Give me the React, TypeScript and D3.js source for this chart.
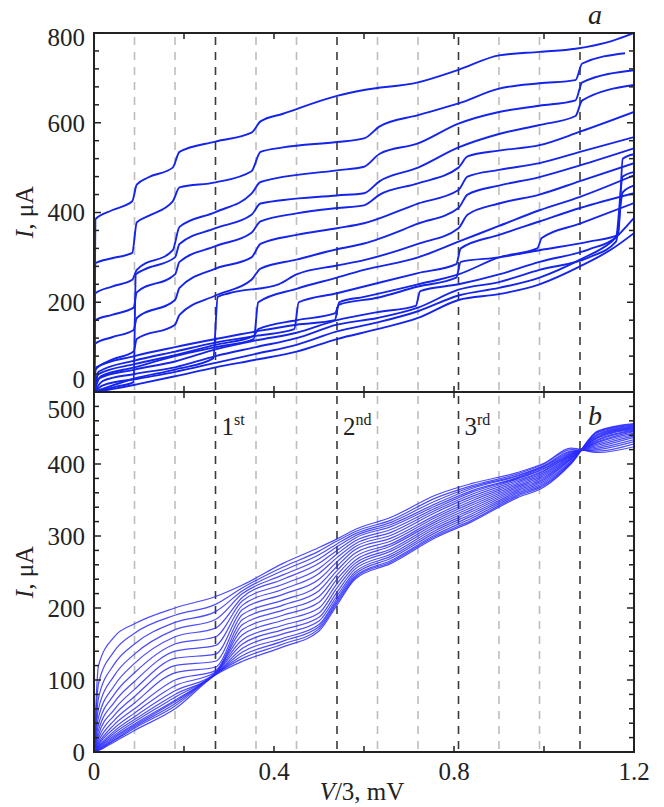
import React from 'react';
import * as d3 from 'd3';

// axes / guides
const xTicks = [0, 0.2, 0.4, 0.6, 0.8, 1.0, 1.2];
const xLabels = [0, 0.4, 0.8, 1.2];
const topYTicks = d3.range(0, 801, 40);
const topYLabels = [0, 200, 400, 600, 800];
const botYTicks = d3.range(0, 501, 20);
const botYLabels = [0, 100, 200, 300, 400, 500];
const lightGuides = [0.09, 0.18, 0.36, 0.45, 0.63, 0.72, 0.9, 0.99];
const darkGuides = [0.27, 0.54, 0.81, 1.08];
const stepMarks = [
  { v: 0.27, n: '1', s: 'st' },
  { v: 0.54, n: '2', s: 'nd' },
  { v: 0.81, n: '3', s: 'rd' },
];

// panel a: measured I-V curves, [V/3 (mV), I (uA)]
const curveA = [[0,0],[0.003,385],[0.04,405],[0.085,425],[0.095,462],[0.12,478],[0.175,500],[0.19,535],[0.27,558],[0.35,578],[0.37,603],[0.42,620],[0.54,660],[0.6,673],[0.72,690],[0.81,718],[0.9,750],[0.99,758],[1.07,765],[1.15,782],[1.2,800]];
const curveB = [[0,0],[0.003,287],[0.04,298],[0.085,310],[0.095,378],[0.12,392],[0.175,425],[0.19,456],[0.27,467],[0.35,492],[0.37,535],[0.42,545],[0.54,557],[0.6,565],[0.635,592],[0.72,617],[0.81,643],[0.9,676],[0.99,688],[1.07,695],[1.085,732],[1.18,755]];
const curveC = [[0,0],[0.003,220],[0.04,235],[0.085,250],[0.095,272],[0.175,316],[0.19,368],[0.27,401],[0.35,442],[0.37,468],[0.54,494],[0.6,502],[0.635,531],[0.72,554],[0.81,598],[0.9,624],[0.99,638],[1.07,650],[1.085,690],[1.2,717]];
const curveJ09 = [[0,0],[0.05,12],[0.088,22],[0.093,262],[0.11,272],[0.18,300],[0.19,330],[0.27,365],[0.35,395],[0.37,420],[0.54,438],[0.6,443],[0.635,470],[0.72,500],[0.81,545],[0.9,575],[0.99,595],[1.07,615],[1.085,650],[1.2,684]];
const curveD = [[0,0],[0.003,160],[0.04,172],[0.088,188],[0.095,222],[0.18,262],[0.19,290],[0.27,325],[0.35,355],[0.37,380],[0.45,398],[0.54,410],[0.6,416],[0.635,440],[0.72,465],[0.81,500],[0.83,525],[0.9,538],[0.99,550],[1.08,580],[1.2,624]];
const curveE = [[0,0],[0.003,108],[0.04,122],[0.088,138],[0.095,165],[0.18,205],[0.19,232],[0.27,275],[0.35,300],[0.37,330],[0.45,350],[0.54,365],[0.6,376],[0.72,420],[0.81,450],[0.83,480],[0.9,495],[0.99,510],[1.08,535],[1.2,568]];
const curveF = [[0,0],[0.003,50],[0.04,72],[0.088,90],[0.095,118],[0.18,150],[0.19,172],[0.27,215],[0.35,250],[0.37,275],[0.45,295],[0.54,318],[0.6,331],[0.72,375],[0.81,410],[0.83,440],[0.9,460],[0.99,479],[1.08,505],[1.2,543]];
const curveJ27 = [[0,0],[0.09,30],[0.18,50],[0.265,75],[0.275,212],[0.3,220],[0.41,240],[0.45,262],[0.54,282],[0.6,294],[0.72,330],[0.81,365],[0.83,395],[0.9,420],[0.99,440],[1.08,470],[1.2,510]];
const curveG = [[0,0],[0.015,35],[0.09,55],[0.18,80],[0.27,100],[0.355,118],[0.365,200],[0.45,230],[0.54,255],[0.6,272],[0.72,300],[0.81,335],[0.9,370],[0.99,405],[1.08,435],[1.2,483]];
const curveH = [[0,0],[0.01,45],[0.09,70],[0.18,90],[0.27,110],[0.36,125],[0.445,140],[0.455,200],[0.54,220],[0.6,235],[0.72,265],[0.805,285],[0.815,320],[0.9,350],[0.99,380],[1.08,410],[1.2,443]];
const curveK = [[0,0],[0.005,55],[0.09,80],[0.18,100],[0.27,118],[0.36,135],[0.45,150],[0.535,160],[0.545,200],[0.6,212],[0.72,240],[0.81,262],[0.9,300],[0.985,320],[0.995,343],[1.08,375],[1.2,421]];
const base4 = [[0,0],[0.01,40],[0.09,62],[0.18,82],[0.27,105],[0.355,125],[0.365,140],[0.45,160],[0.535,175],[0.545,195],[0.63,210],[0.72,235],[0.805,255],[0.815,290],[0.9,300],[0.99,316],[1.1,335],[1.165,350],[1.175,520],[1.2,530]];
const base3 = [[0,0],[0.01,30],[0.09,50],[0.18,68],[0.27,95],[0.36,115],[0.45,132],[0.54,160],[0.63,178],[0.715,192],[0.725,225],[0.81,240],[0.9,262],[0.99,290],[1.1,318],[1.16,345],[1.175,480],[1.2,490]];
const base2 = [[0,0],[0.02,25],[0.09,40],[0.18,55],[0.27,80],[0.36,100],[0.45,120],[0.54,150],[0.63,165],[0.72,188],[0.81,228],[0.9,245],[0.99,272],[1.1,300],[1.16,335],[1.175,445],[1.2,460]];
const base1 = [[0,0],[0.02,15],[0.1,30],[0.18,45],[0.27,65],[0.36,85],[0.45,105],[0.54,135],[0.63,155],[0.72,180],[0.81,215],[0.9,232],[0.99,255],[1.08,295],[1.15,335],[1.2,388]];
const base0 = [[0,0],[0.05,8],[0.1,18],[0.18,35],[0.27,55],[0.36,72],[0.45,90],[0.54,118],[0.63,140],[0.72,165],[0.81,205],[0.9,218],[0.99,240],[1.08,280],[1.15,318],[1.2,354]];
const topCurves = [curveA, curveB, curveC, curveJ09, curveD, curveE, curveF, curveJ27, curveG, curveH, curveK, base4, base3, base2, base1, base0];

// panel b: calculated curves, I (uA) at the voltages in bottomV
const bottomV = [0, 0.01, 0.045, 0.09, 0.18, 0.27, 0.33, 0.42, 0.5, 0.54, 0.58, 0.66, 0.76, 0.84, 0.94, 1.0, 1.06, 1.12, 1.2];
const bottomI = [
  [0, 2, 14, 30, 60, 107, 126, 146, 168, 204, 240, 262, 298, 320, 353, 368, 400, 446, 456],
  [0, 3, 16, 33, 64, 108, 130, 150, 171, 207, 242, 264, 300, 322, 355, 370, 401, 445, 455],
  [0, 3, 17, 35, 67, 108, 134, 154, 174, 210, 244, 266, 302, 325, 357, 372, 402, 444, 454],
  [0, 4, 19, 37, 70, 108, 139, 158, 177, 213, 247, 269, 305, 328, 359, 374, 403, 442, 453],
  [0, 5, 21, 39, 72, 108, 144, 164, 182, 217, 250, 272, 308, 331, 361, 376, 404, 441, 452],
  [0, 6, 23, 42, 76, 109, 150, 170, 187, 222, 254, 275, 311, 334, 363, 378, 406, 440, 451],
  [0, 7, 26, 45, 80, 109, 156, 176, 193, 228, 258, 279, 314, 337, 365, 380, 407, 438, 450],
  [0, 8, 29, 49, 85, 110, 163, 183, 200, 234, 262, 282, 317, 340, 367, 382, 408, 437, 449],
  [0, 10, 33, 54, 92, 111, 170, 190, 208, 240, 266, 286, 320, 343, 369, 384, 409, 436, 448],
  [0, 12, 38, 60, 100, 113, 177, 197, 216, 246, 271, 289, 323, 346, 371, 386, 410, 434, 447],
  [0, 15, 44, 68, 110, 118, 184, 204, 224, 252, 276, 293, 326, 349, 373, 388, 411, 433, 446],
  [0, 19, 51, 77, 120, 126, 191, 211, 232, 258, 281, 297, 329, 352, 375, 390, 412, 431, 445],
  [0, 24, 59, 87, 130, 136, 198, 219, 240, 264, 285, 301, 333, 355, 377, 391, 413, 430, 443],
  [0, 30, 69, 98, 140, 148, 204, 226, 248, 270, 289, 305, 336, 358, 379, 393, 414, 428, 441],
  [0, 38, 80, 110, 150, 160, 210, 233, 255, 275, 293, 309, 339, 361, 380, 394, 415, 426, 439],
  [0, 48, 92, 123, 160, 172, 215, 240, 262, 280, 297, 313, 342, 363, 381, 396, 416, 424, 437],
  [0, 60, 106, 136, 170, 184, 220, 246, 268, 285, 300, 316, 345, 366, 383, 397, 417, 422, 434],
  [0, 75, 122, 150, 180, 195, 224, 252, 274, 289, 303, 319, 349, 368, 384, 398, 418, 420, 431],
  [0, 95, 140, 165, 190, 205, 228, 257, 279, 293, 306, 322, 353, 370, 386, 400, 420, 418, 428],
  [0, 120, 160, 178, 200, 216, 232, 262, 284, 296, 309, 326, 357, 373, 388, 401, 422, 416, 424],
];

const FONT = 'Liberation Serif, Times New Roman, Times, serif';

export default function App() {
  const x = d3.scaleLinear().domain([0, 1.2]).range([94, 634]);
  const yTop = d3.scaleLinear().domain([0, 800]).range([392, 33]);
  const yBot = d3.scaleLinear().domain([0, 500]).range([752, 392]);

  const lineTop = d3.line<number[]>().x(d => x(d[0])).y(d => yTop(d[1])).curve(d3.curveMonotoneX);
  const lineBot = d3.line<number>().x((_, i) => x(bottomV[i])).y(d => yBot(d)).curve(d3.curveMonotoneX);

  const panels = [
    { y: yTop, ticks: topYTicks, labels: topYLabels, major: 200 },
    { y: yBot, ticks: botYTicks, labels: botYLabels, major: 100 },
  ];

  return (
    <svg width={664} height={807} style={{ position: 'absolute', left: 0, top: 0, background: '#fff' }}
      fontFamily={FONT}>
      <defs>
        <clipPath id="clipTop"><rect x={94} y={33} width={540} height={359} /></clipPath>
        <clipPath id="clipBot"><rect x={94} y={392} width={540} height={360} /></clipPath>
      </defs>

      {/* guide lines */}
      {panels.map((p, pi) => (
        <g key={'g' + pi}>
          {lightGuides.map(v => (
            <line key={v} x1={x(v)} x2={x(v)} y1={p.y.range()[1] + 4} y2={p.y.range()[0]}
              stroke="#bdbdbd" strokeWidth={1.6} strokeDasharray="8,7" />
          ))}
          {darkGuides.map(v => (
            <line key={v} x1={x(v)} x2={x(v)} y1={p.y.range()[1] + 4} y2={p.y.range()[0]}
              stroke="#3a3a3a" strokeWidth={1.6} strokeDasharray="8,7" />
          ))}
        </g>
      ))}

      {/* panel a curves */}
      <g clipPath="url(#clipTop)">
        {topCurves.map((c, i) => (
          <path key={i} d={lineTop(c) || ''} fill="none" stroke="#1424e8" strokeWidth={1.9} />
        ))}
      </g>

      {/* panel b curves */}
      <g clipPath="url(#clipBot)">
        {bottomI.map((c, i) => (
          <path key={i} d={lineBot(c) || ''} fill="none" stroke="#2a2aff" strokeOpacity={0.85} strokeWidth={1.2} />
        ))}
      </g>

      {/* frames and ticks */}
      {panels.map((p, pi) => {
        const [y0, y1] = p.y.range();
        return (
          <g key={'f' + pi} stroke="#222">
            <rect x={94} y={y1} width={540} height={y0 - y1} fill="none" strokeWidth={2} />
            {xTicks.map(v => (
              <g key={v}>
                <line x1={x(v)} x2={x(v)} y1={y0} y2={y0 - 6} strokeWidth={1.5} />
                <line x1={x(v)} x2={x(v)} y1={y1} y2={y1 + 6} strokeWidth={1.5} />
              </g>
            ))}
            {p.ticks.map(t => {
              const len = t % p.major === 0 ? 7 : 5;
              return (
                <g key={t}>
                  <line x1={94} x2={94 + len} y1={p.y(t)} y2={p.y(t)} strokeWidth={1.5} />
                  <line x1={634} x2={634 - len} y1={p.y(t)} y2={p.y(t)} strokeWidth={1.5} />
                </g>
              );
            })}
          </g>
        );
      })}

      {/* y tick labels */}
      {panels.map((p, pi) => (
        <g key={'l' + pi} fontSize={25} fill="#222" textAnchor="end">
          {p.labels.map(t => {
            let cy = p.y(t);
            if (pi === 0 && t === 0) cy = 379;
            if (pi === 0 && t === 800) cy = 37;
            if (pi === 1 && t === 500) cy = 409;
            return (
              <text key={t} x={85} y={cy} dy="0.35em">{t}</text>
            );
          })}
        </g>
      ))}

      {/* x tick labels */}
      <g fontSize={25} fill="#222" textAnchor="middle">
        {xLabels.map(v => (
          <text key={v} x={x(v)} y={780}>{v === 0 ? '0' : v.toFixed(1)}</text>
        ))}
      </g>

      {/* axis titles */}
      <text transform="translate(33,212) rotate(-90)" fontSize={25} fill="#222" textAnchor="middle">
        <tspan fontStyle="italic">I</tspan>, μA
      </text>
      <text transform="translate(33,572) rotate(-90)" fontSize={25} fill="#222" textAnchor="middle">
        <tspan fontStyle="italic">I</tspan>, μA
      </text>
      <text x={362} y={800} fontSize={25} fill="#222" textAnchor="middle">
        <tspan fontStyle="italic">V</tspan>/3, mV
      </text>

      {/* panel letters */}
      <text x={595} y={24} fontSize={28} fontStyle="italic" fill="#222" textAnchor="middle">a</text>
      <text x={595} y={425} fontSize={28} fontStyle="italic" fill="#222" textAnchor="middle">b</text>

      {/* step labels */}
      {stepMarks.map(m => (
        <text key={m.v} x={x(m.v) + 6} y={435} fontSize={25} fill="#222">
          {m.n}<tspan fontSize={16} dy={-10}>{m.s}</tspan>
        </text>
      ))}
    </svg>
  );
}
